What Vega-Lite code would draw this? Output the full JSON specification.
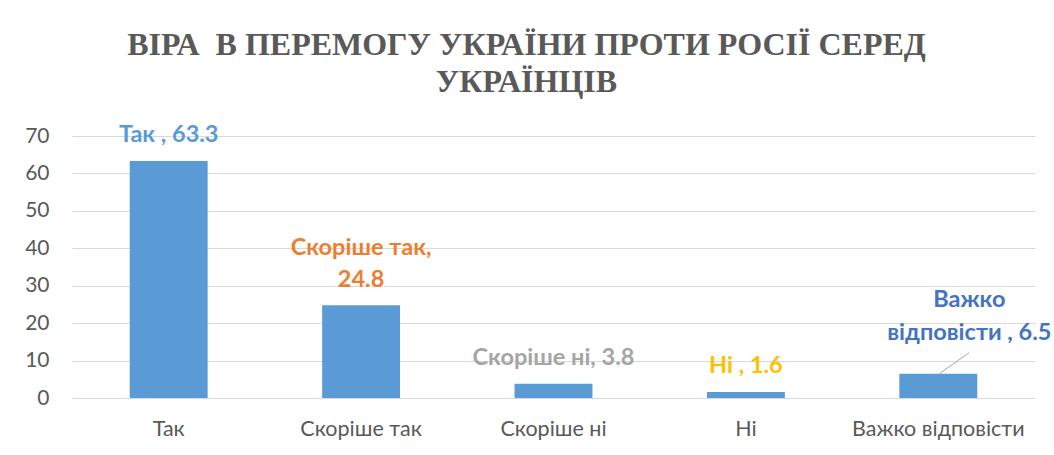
{
  "$schema": "https://vega.github.io/schema/vega-lite/v6.json",
  "width": 963,
  "height": 262,
  "autosize": "none",
  "padding": {"left": 72, "top": 136, "right": 19, "bottom": 57},
  "background": "white",
  "title": {
    "text": ["ВІРА \u00a0В ПЕРЕМОГУ УКРАЇНИ ПРОТИ РОСІЇ СЕРЕД", "УКРАЇНЦІВ"],
    "font": "Liberation Serif",
    "fontSize": 32,
    "fontWeight": "bold",
    "color": "#595959",
    "anchor": "middle",
    "frame": "group",
    "dx": -27,
    "offset": 24,
    "lineHeight": 37
  },
  "data": {
    "values": [
      {"category": "Так", "value": 63.3, "label": "Так , 63.3"},
      {"category": "Скоріше так", "value": 24.8, "label": "Скоріше так,\n24.8"},
      {"category": "Скоріше ні", "value": 3.8, "label": "Скоріше ні, 3.8"},
      {"category": "Ні", "value": 1.6, "label": "Ні , 1.6"},
      {"category": "Важко відповісти", "value": 6.5, "label": "Важко\nвідповісти , 6.5"}
    ]
  },
  "encoding": {
    "x": {
      "field": "category",
      "type": "nominal",
      "sort": null,
      "scale": {"paddingInner": 0.595, "paddingOuter": 0.3},
      "axis": {
        "title": null,
        "labelAngle": 0,
        "labelFont": "Lato",
        "labelFontSize": 21.5,
        "labelColor": "#595959",
        "labelPadding": 20,
        "domain": false,
        "ticks": false,
        "grid": false
      }
    },
    "y": {
      "field": "value",
      "type": "quantitative",
      "scale": {"domain": [0, 70], "nice": false},
      "axis": {
        "title": null,
        "values": [0, 10, 20, 30, 40, 50, 60, 70],
        "labelFont": "Lato",
        "labelFontSize": 21,
        "labelColor": "#595959",
        "labelPadding": 23,
        "domain": false,
        "ticks": false,
        "gridColor": "#D9D9D9",
        "gridWidth": 1
      }
    }
  },
  "layer": [
    {"mark": {"type": "bar", "color": "#5B9BD5"}},
    {
      "transform": [{"filter": "datum.category !== 'Важко відповісти' && datum.category !== 'Скоріше так'"}],
      "mark": {
        "type": "text",
        "font": "Lato",
        "fontSize": 23.5,
        "fontWeight": "bold",
        "baseline": "middle",
        "dy": -26
      },
      "encoding": {
        "text": {"field": "label"},
        "color": {
          "field": "category",
          "type": "nominal",
          "scale": {
            "domain": ["Так", "Скоріше так", "Скоріше ні", "Ні", "Важко відповісти"],
            "range": ["#5B9BD5", "#ED7D31", "#A5A5A5", "#FFC000", "#4472C4"]
          },
          "legend": null
        }
      }
    },
    {
      "transform": [{"filter": "datum.category === 'Скоріше так'"}],
      "mark": {
        "type": "text",
        "font": "Lato",
        "fontSize": 23.5,
        "fontWeight": "bold",
        "baseline": "middle",
        "dy": -57,
        "lineBreak": "\n",
        "lineHeight": 32
      },
      "encoding": {
        "text": {"field": "label"},
        "color": {
          "field": "category",
          "type": "nominal",
          "scale": {
            "domain": ["Так", "Скоріше так", "Скоріше ні", "Ні", "Важко відповісти"],
            "range": ["#5B9BD5", "#ED7D31", "#A5A5A5", "#FFC000", "#4472C4"]
          },
          "legend": null
        }
      }
    },
    {
      "transform": [{"filter": "datum.category === 'Важко відповісти'"}],
      "mark": {
        "type": "text",
        "font": "Lato",
        "fontSize": 23.5,
        "fontWeight": "bold",
        "baseline": "middle",
        "dy": -74,
        "dx": 31,
        "lineBreak": "\n",
        "lineHeight": 33
      },
      "encoding": {
        "text": {"field": "label"},
        "color": {
          "field": "category",
          "type": "nominal",
          "scale": {
            "domain": ["Так", "Скоріше так", "Скоріше ні", "Ні", "Важко відповісти"],
            "range": ["#5B9BD5", "#ED7D31", "#A5A5A5", "#FFC000", "#4472C4"]
          },
          "legend": null
        }
      }
    },
    {
      "transform": [{"filter": "datum.category === 'Важко відповісти'"}],
      "mark": {
        "type": "rule",
        "color": "#A6A6A6",
        "strokeWidth": 1,
        "xOffset": 1,
        "x2Offset": 31,
        "y2Offset": -21
      },
      "encoding": {
        "x2": {"field": "category"},
        "y2": {"field": "value"}
      }
    }
  ],
  "config": {
    "view": {"stroke": null}
  }
}
